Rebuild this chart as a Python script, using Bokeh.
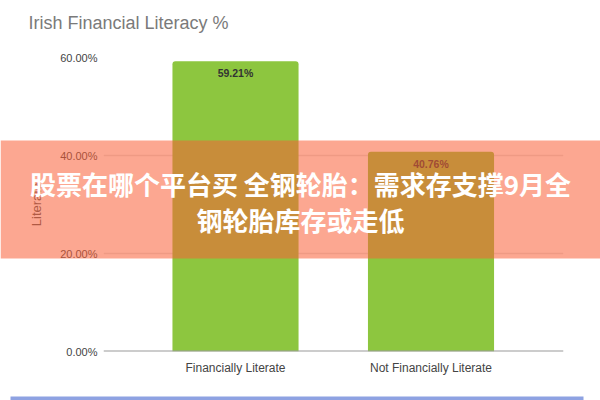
from bokeh.plotting import figure
from bokeh.layouts import column
from bokeh.models import (Range1d, FixedTicker, PrintfTickFormatter, ColumnDataSource,
                          LabelSet, Label, BoxAnnotation, Span)
from bokeh.core.properties import value
from bokeh.embed import file_html
from bokeh.resources import INLINE

title_text = "Irish Financial Literacy %"
categories = ["Financially Literate", "Not Financially Literate"]
values = [59.21, 40.76]
value_labels = ["59.21%", "40.76%"]
y_ticks = [0, 20, 40, 60]
y_axis_title = "Literate"
banner_lines = ["股票在哪个平台买 全钢轮胎：需求存支撑9月全", "钢轮胎库存或走低"]

W, H = 600, 400
xs = list(range(len(categories)))
src = ColumnDataSource(dict(x=xs, top=values, label=value_labels))

# ---------------- main chart ----------------
p = figure(width=W, height=H, output_backend="svg", toolbar_location=None,
           x_range=Range1d(-0.6752, 1.6777), y_range=Range1d(0, 60),
           min_border_left=103, min_border_right=37, min_border_top=57, min_border_bottom=49)
p.frame_align = False
p.outline_line_color = None
p.background_fill_color = "white"
p.border_fill_color = "white"

p.vbar(x="x", top="top", bottom=0, width=0.645, source=src,
       fill_color="#8DC63F", line_color=None, border_radius=(3, 3, 0, 0))

p.xaxis.ticker = FixedTicker(ticks=xs)
p.xaxis.major_label_overrides = {i: c for i, c in zip(xs, categories)}
p.yaxis.ticker = FixedTicker(ticks=y_ticks)
p.yaxis.formatter = PrintfTickFormatter(format="%.2f%%")
for ax in (p.xaxis[0], p.yaxis[0]):
    ax.axis_line_color = None
    ax.major_tick_line_color = None
    ax.minor_tick_line_color = None
    ax.major_tick_out = 0
    ax.major_tick_in = 0
    ax.major_label_text_font = "Liberation Sans"
    ax.major_label_text_color = "#444444"
p.yaxis.major_label_text_font_size = "11px"
p.xaxis.major_label_text_font_size = "12px"
p.xaxis.major_label_standoff = 9
p.yaxis.major_label_standoff = 6
p.yaxis.axis_label = y_axis_title
p.yaxis.axis_label_text_font = "Liberation Sans"
p.yaxis.axis_label_text_font_size = "13px"
p.yaxis.axis_label_text_font_style = "normal"
p.yaxis.axis_label_text_color = "#555555"
p.yaxis.axis_label_standoff = 13

p.xgrid.grid_line_color = None
p.ygrid.ticker = FixedTicker(ticks=y_ticks)
p.ygrid.grid_line_color = "#e3e3e3"
p.ygrid.grid_line_width = 1.5

p.add_layout(Span(location=0, dimension="width", line_color="#9a9a9a", line_width=2))

p.add_layout(LabelSet(x="x", y="top", text="label", source=src, y_offset=-12,
                      text_align="center", text_baseline="middle",
                      text_font=value("Liberation Sans"), text_font_size="10.5px",
                      text_font_style="bold", text_color="#333333"))

# ---------------- overlay layer (title + banner) ----------------
o = figure(width=W, height=H, output_backend="svg", toolbar_location=None,
           x_range=Range1d(0, W), y_range=Range1d(H, 0),
           x_axis_type=None, y_axis_type=None, min_border=0)
o.frame_align = False
o.outline_line_color = None
o.background_fill_alpha = 0
o.border_fill_alpha = 0
o.xgrid.visible = False
o.ygrid.visible = False

o.add_layout(Label(x=28, y=22, text=title_text,
                   text_font="Liberation Sans", text_font_size="18px",
                   text_color="#7a7a7a", text_baseline="middle", text_align="left"))

o.add_layout(BoxAnnotation(left=0, right=W, top=140, bottom=258,
                           fill_color="#FA5F37", fill_alpha=0.55, line_color=None))

for line, yy in zip(banner_lines, [183, 219]):
    o.add_layout(Label(x=300, y=yy, text=line,
                       text_font="Noto Sans CJK SC", text_font_size="26px",
                       text_font_style="bold", text_color="white",
                       text_align="center", text_baseline="middle"))

o.add_layout(BoxAnnotation(left=10, right=583, top=396, bottom=400,
                           fill_color="#8EA2E2", fill_alpha=1.0, line_color=None))

o.styles = {"position": "absolute", "top": "0px", "left": "0px"}
layout = column(p, o, styles={"position": "relative"})

open("out.html", "w").write(file_html(layout, INLINE))
